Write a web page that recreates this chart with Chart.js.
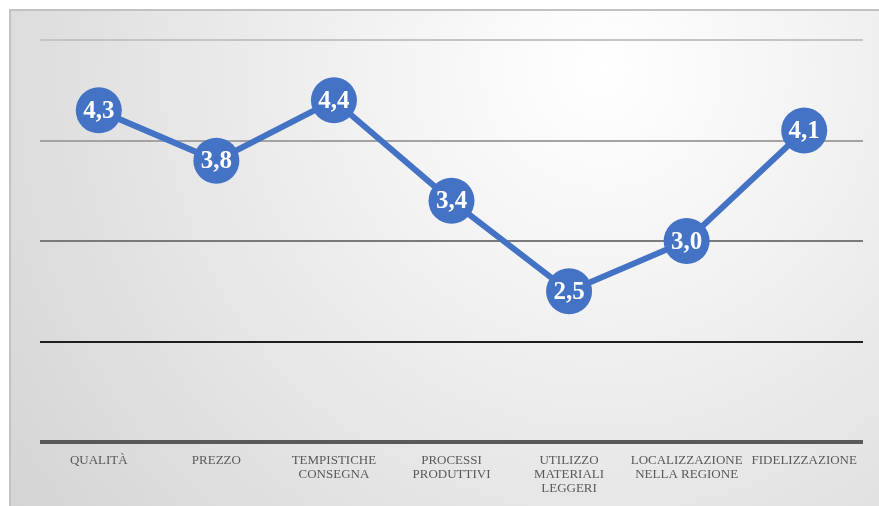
<!DOCTYPE html>
<html>
<head>
<meta charset="utf-8">
<script src="https://cdn.jsdelivr.net/npm/chart.js@4"></script>
<style>
  html, body { margin: 0; padding: 0; background: #fff; }
  #frame {
    position: absolute; left: 9px; top: 9px; width: 868px; height: 495px;
    border-left: 2px solid #c2c2c2; border-top: 2px solid #c2c2c2;
    background: radial-gradient(circle farthest-corner at 68% 12%, #ffffff 0%, #f3f3f3 30%, #d4d4d4 100%);
  }
  #myChart { display: block; }
</style>
</head>
<body>
<div id="frame"><canvas id="myChart" width="868" height="495"></canvas></div>
<script>
document.addEventListener('DOMContentLoaded', function() {
	var categories = [
		'QUALITÀ',
		'PREZZO',
		['TEMPISTICHE', 'CONSEGNA'],
		['PROCESSI', 'PRODUTTIVI'],
		['UTILIZZO', 'MATERIALI', 'LEGGERI'],
		['LOCALIZZAZIONE', 'NELLA REGIONE'],
		'FIDELIZZAZIONE'
	];
	var scores = [4.3, 3.8, 4.4, 3.4, 2.5, 3.0, 4.1];
	var yTicks = [1, 2, 3, 4, 5];

	var blue = '#4472C4';

	// gridline look for each tick value (bottom one acts as the axis)
	var gridColors = { 1: '#595959', 2: '#1e1e1e', 3: '#7a7a7a', 4: '#a3a3a3', 5: '#c4c4c4' };
	var gridWidths = { 1: 4, 2: 2, 3: 2, 4: 2, 5: 2 };

	// writes the score inside each marker, with an italian decimal comma
	var valueLabels = {
		id: 'valueLabels',
		afterDatasetsDraw: function(chart) {
			var ctx = chart.ctx;
			var meta = chart.getDatasetMeta(0);
			ctx.save();
			ctx.fillStyle = '#ffffff';
			ctx.font = 'bold 25px "Liberation Serif", "Times New Roman", serif';
			ctx.textAlign = 'center';
			ctx.textBaseline = 'middle';
			meta.data.forEach(function(pt, i) {
				var txt = scores[i].toFixed(1).replace('.', ',');
				ctx.fillText(txt, pt.x, pt.y + 1);
			});
			ctx.restore();
		}
	};

	var chart = new Chart(document.getElementById('myChart'), {
		type: 'line',
		data: {
			labels: categories,
			datasets: [{
				data: scores,
				borderColor: blue,
				backgroundColor: blue,
				borderWidth: 6,
				pointRadius: 23,
				pointHoverRadius: 23,
				pointBackgroundColor: blue,
				pointBorderWidth: 0,
				tension: 0,
				clip: false
			}]
		},
		options: {
			responsive: false,
			animation: false,
			events: [],
			layout: { autoPadding: false, padding: { left: 29, right: 16, top: 29, bottom: 7 } },
			plugins: {
				legend: { display: false },
				tooltip: { enabled: false }
			},
			scales: {
				x: {
					offset: true,
					afterFit: function(axis) {
						// the long end labels must not push the plot inwards
						axis.paddingLeft = 0;
						axis.paddingRight = 0;
					},
					grid: { display: false },
					border: { display: false },
					ticks: {
						color: '#595959',
						padding: 3,
						maxRotation: 0,
						autoSkip: false,
						font: { family: '"Liberation Serif", "Times New Roman", serif', size: 13, lineHeight: 1.1 }
					}
				},
				y: {
					min: 1,
					max: 5,
					afterBuildTicks: function(axis) {
						axis.ticks = yTicks.map(function(v) { return { value: v }; });
					},
					border: { display: false },
					grid: {
						drawTicks: false,
						color: function(c) { return gridColors[c.tick.value]; },
						lineWidth: function(c) { return gridWidths[c.tick.value]; }
					},
					ticks: { display: false }
				}
			}
		},
		plugins: [valueLabels]
	});
});
</script>
</body>
</html>
